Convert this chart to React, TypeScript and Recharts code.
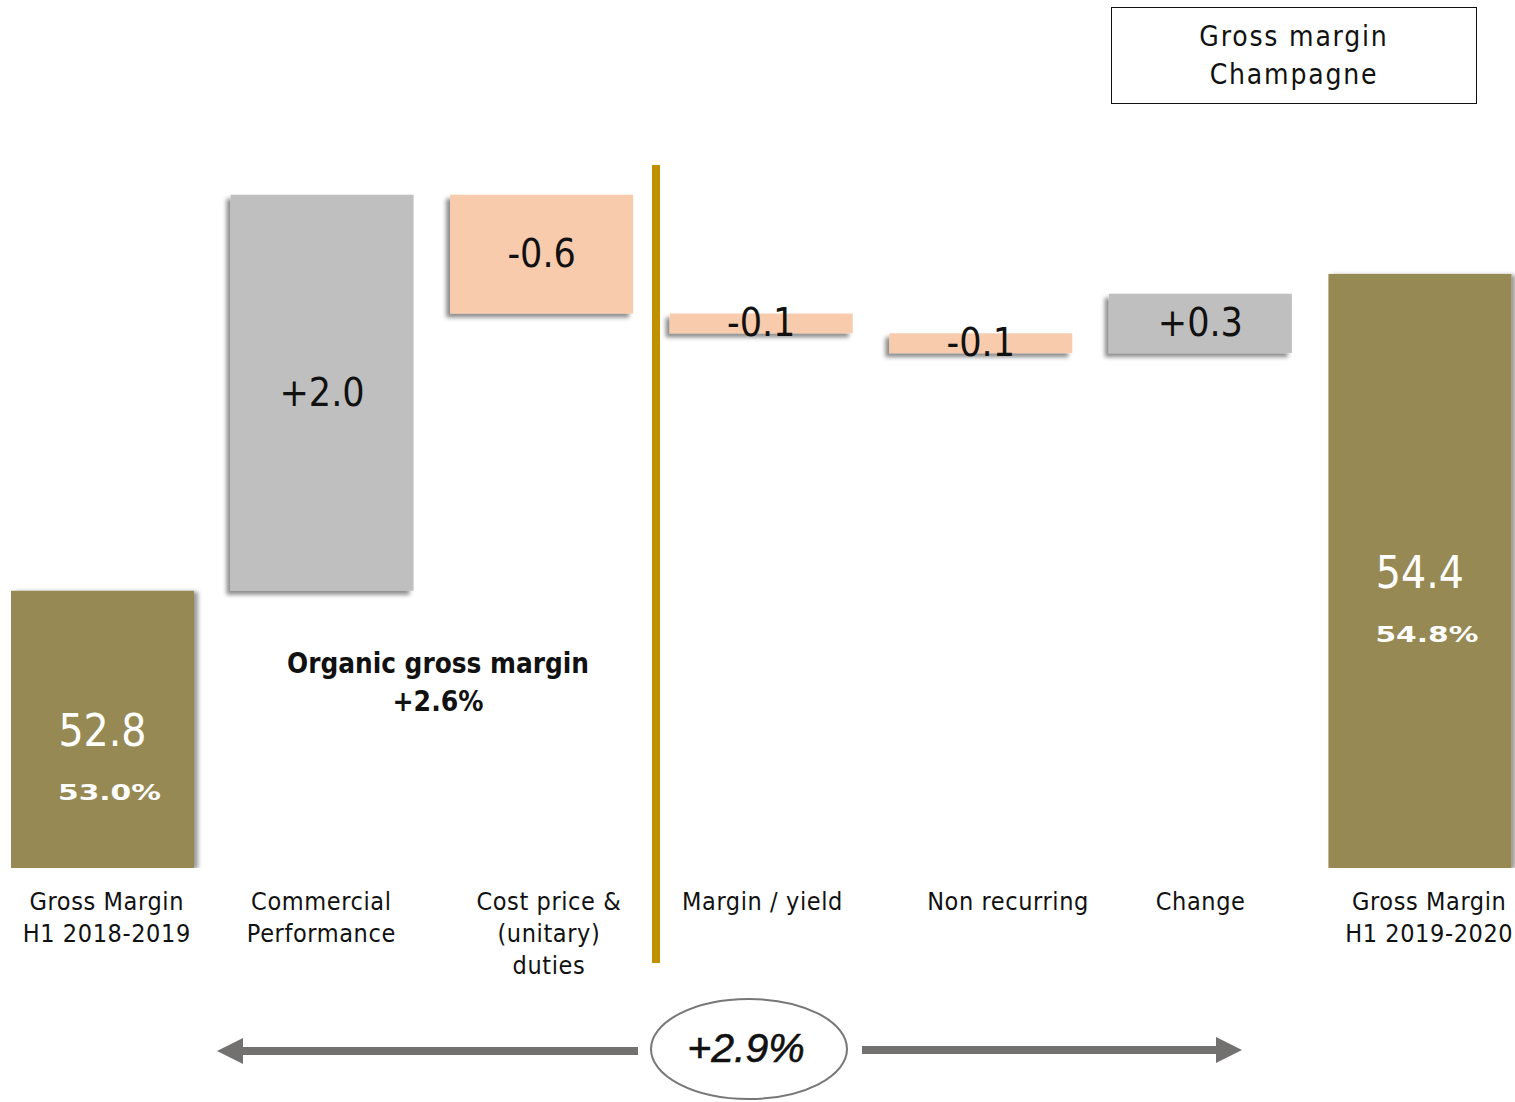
import React from "react";
import { Bar, BarChart, LabelList, XAxis, YAxis } from "recharts";

// waterfall steps, left to right
const categories = [
  "Gross Margin\nH1 2018-2019",
  "Commercial\nPerformance",
  "Cost price &\n(unitary)\nduties",
  "Margin / yield",
  "Non recurring",
  "Change",
  "Gross Margin\nH1 2019-2020",
];
const stepValues = [52.8, 2.0, -0.6, -0.1, -0.1, 0.3, 54.4];
const isTotal = [true, false, false, false, false, false, true];
const totalRates = ["53.0%", "", "", "", "", "", "54.8%"];

const AXIS_MIN = 51.4;
const AXIS_MAX = 54.95;

const OLIVE = "#968953";
const GREY = "#bfbfbf";
const PEACH = "#f7cbac";
const GOLD = "#c09000";
const ARROW = "#737070";

const NARROW = '"Liberation Sans Narrow", "DejaVu Sans Condensed", "Roboto Condensed", sans-serif';

// small horizontal nudges for the category captions
const tickNudge = [4, -1, 7, 1, 27, 0, 9];

let running = 0;
const rows = categories.map((name, i) => {
  const v = stepValues[i];
  let range: number[];
  if (isTotal[i]) {
    range = [AXIS_MIN, v];
    running = v;
  } else {
    const next = +(running + v).toFixed(1);
    range = [Math.min(running, next), Math.max(running, next)];
    running = next;
  }
  const label = isTotal[i] ? v.toFixed(1) : (v > 0 ? "+" : "") + v.toFixed(1);
  return { name, value: v, range, total: isTotal[i], label, rate: totalRates[i] };
});

const WaterfallBar = (props: any) => {
  const { x, y, width, height, payload } = props;
  const h = Math.abs(height);
  const top = height < 0 ? y + height : y;
  const fill = payload.total ? OLIVE : payload.value >= 0 ? GREY : PEACH;
  const filter = payload.total ? "url(#shadowRight)" : "url(#shadowLeft)";
  return <rect x={x} y={top} width={width} height={h} fill={fill} filter={filter} />;
};

const boxOf = (props: any) => {
  const vb = props.viewBox ?? props;
  const h = Math.abs(vb.height);
  const top = vb.height < 0 ? vb.y + vb.height : vb.y;
  return { cx: vb.x + vb.width / 2, cy: top + h / 2 };
};

const ValueLabel = (props: any) => {
  const row = rows[props.index];
  if (!row) return null;
  const { cx, cy } = boxOf(props);
  if (row.total) {
    return (
      <g>
        <text x={cx} y={cy + 17} textAnchor="middle" fill="#fff" fontFamily={NARROW} fontSize={44}>
          {row.label}
        </text>
        <text
          x={cx + 7}
          y={cy + 71}
          textAnchor="middle"
          fill="#fff"
          fontFamily='"DejaVu Sans", sans-serif'
          fontWeight="bold"
          fontSize={21}
          textLength={103}
          lengthAdjust="spacingAndGlyphs"
        >
          {row.rate}
        </text>
      </g>
    );
  }
  return (
    <text x={cx} y={cy + 13} textAnchor="middle" fill="#111" fontFamily={NARROW} fontSize={39}>
      {row.label}
    </text>
  );
};

const CategoryTick = (props: any) => {
  const { x, y, payload, index } = props;
  const lines = String(payload.value).split("\n");
  const tx = x + (tickNudge[index] ?? 0);
  return (
    <text
      x={tx}
      y={y + 42}
      textAnchor="middle"
      fill="#111"
      fontFamily={NARROW}
      fontSize={25}
      letterSpacing={0.6}
    >
      {lines.map((line, i) => (
        <tspan key={i} x={tx} dy={i === 0 ? 0 : 32}>
          {line}
        </tspan>
      ))}
    </text>
  );
};

const Arrow = ({ from, to, y }: { from: number; to: number; y: number }) => {
  const dir = to > from ? 1 : -1;
  const headBase = to - dir * 26;
  return (
    <g fill={ARROW}>
      <rect x={Math.min(from, headBase)} y={y - 4} width={Math.abs(headBase - from)} height={8} />
      <polygon points={`${headBase},${y - 13} ${to},${y} ${headBase},${y + 13}`} />
    </g>
  );
};

export default function App() {
  return (
    <div
      style={{
        position: "absolute",
        left: 0,
        top: 0,
        width: 1515,
        height: 1102,
        overflow: "hidden",
        background: "#fff",
      }}
    >
      <div style={{ position: "absolute", left: -7, top: 0 }}>
        <BarChart
          width={1537}
          height={1102}
          data={rows}
          margin={{ top: 165, right: 0, bottom: 0, left: 0 }}
        >
          <XAxis
            dataKey="name"
            interval={0}
            height={234}
            tickLine={false}
            axisLine={false}
            tickSize={0}
            tickMargin={0}
            tick={<CategoryTick />}
          />
          <YAxis hide domain={[AXIS_MIN, AXIS_MAX]} allowDataOverflow />
          <Bar dataKey="range" barSize={183} shape={<WaterfallBar />} isAnimationActive={false}>
            <LabelList dataKey="label" content={<ValueLabel />} />
          </Bar>
        </BarChart>
      </div>

      <svg
        width={1515}
        height={1102}
        style={{ position: "absolute", left: 0, top: 0, pointerEvents: "none" }}
      >
        <defs>
          <filter id="shadowLeft" filterUnits="userSpaceOnUse" x={0} y={0} width={1600} height={1200}>
            <feDropShadow dx={-4} dy={4} stdDeviation={2} floodColor="#000" floodOpacity={0.45} />
          </filter>
          <filter id="shadowRight" filterUnits="userSpaceOnUse" x={0} y={0} width={1600} height={1200}>
            <feDropShadow dx={4} dy={1} stdDeviation={2} floodColor="#000" floodOpacity={0.4} />
          </filter>
        </defs>

        {/* split between organic and non-organic effects */}
        <rect x={652} y={165} width={8} height={798} fill={GOLD} />

        <text
          textAnchor="middle"
          fontFamily={NARROW}
          fontWeight="bold"
          fontSize={28}
          fill="#111"
        >
          <tspan x={438} y={673} textLength={302} lengthAdjust="spacingAndGlyphs">
            Organic gross margin
          </tspan>
          <tspan x={438} y={711}>+2.6%</tspan>
        </text>

        <Arrow from={638} to={217} y={1051} />
        <Arrow from={862} to={1242} y={1050} />
        <ellipse cx={749} cy={1049} rx={98} ry={50} fill="#fff" stroke="#777" strokeWidth={2} />
        <text
          x={746}
          y={1062}
          textAnchor="middle"
          fontFamily='"Liberation Sans", Arial, sans-serif'
          fontStyle="italic"
          fontSize={41}
          fill="#111"
          stroke="#111"
          strokeWidth={0.6}
        >
          +2.9%
        </text>
      </svg>

      <div
        style={{
          position: "absolute",
          left: 1111,
          top: 7,
          width: 366,
          height: 97,
          boxSizing: "border-box",
          border: "1.5px solid #111",
          textAlign: "center",
          fontFamily: '"DejaVu Sans Condensed", "Liberation Sans Narrow", sans-serif',
          fontSize: 28,
          lineHeight: "38px",
          paddingTop: 10,
          color: "#111",
          letterSpacing: 1.8,
        }}
      >
        Gross margin
        <br />
        Champagne
      </div>
    </div>
  );
}
